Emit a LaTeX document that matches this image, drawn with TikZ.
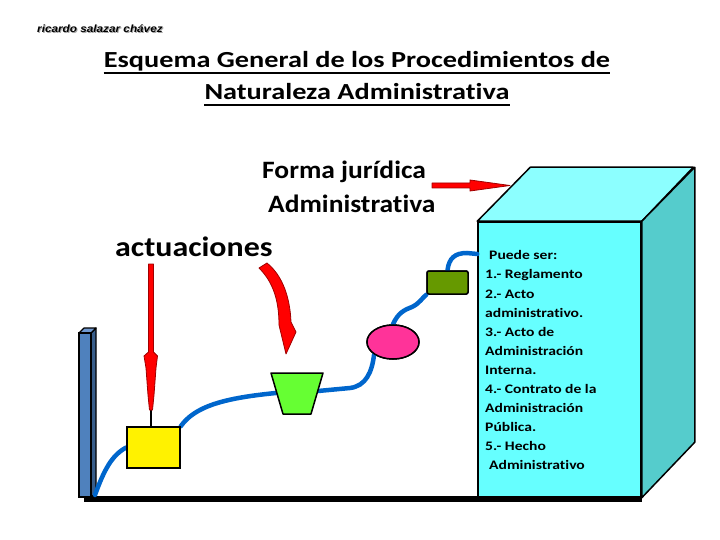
\documentclass[tikz,border=0pt]{standalone}
\usepackage{fontspec}
\setmainfont{Carlito}[Ligatures=NoCommon]
\newfontfamily\authorfont{Liberation Sans}[FakeStretch=1.12]
\newfontfamily\titlefont{Carlito}[FakeStretch=1.23,Ligatures=NoCommon]
\newfontfamily\formfont{Carlito}[FakeStretch=1.1,Ligatures=NoCommon]
\newfontfamily\actfont{Carlito}[FakeStretch=1.14,Ligatures=NoCommon]
\newfontfamily\boxfont{Carlito}[FakeStretch=1.2,Ligatures=NoCommon]
\usetikzlibrary{calc,shapes.geometric}
\definecolor{cyanfront}{HTML}{66FFFF}
\definecolor{cyantop}{HTML}{8CFFFF}
\definecolor{cyanside}{HTML}{55CCCC}
\definecolor{wire}{HTML}{0066CC}
\definecolor{pinkel}{HTML}{FF3399}
\definecolor{olivebox}{HTML}{669900}
\definecolor{greentz}{HTML}{66FF33}
\definecolor{pillarf}{HTML}{4F81BD}
\definecolor{pillars}{HTML}{385D8A}
\definecolor{pillart}{HTML}{7099D0}
\definecolor{arrred}{HTML}{FF0000}
\definecolor{arrdark}{HTML}{A00000}
\tikzset{
  shapeline/.style={draw=black, line width=1.5pt},
  wireline/.style={draw=wire, line width=4.5pt, line cap=round},
  redarrow/.style={fill=arrred, draw=arrdark, line width=0.8pt, line join=round},
  titletext/.style={font=\titlefont\bfseries\fontsize{23}{28}\selectfont, inner sep=0pt},
  labeltext/.style={font=\formfont\bfseries\fontsize{25}{30}\selectfont, inner sep=0pt},
}
\begin{document}
\begin{tikzpicture}[x=1pt,y=-1pt]
\useasboundingbox (0,0) rectangle (720,540);
% author
\node[anchor=base west, inner sep=0pt, text=black!35, font=\authorfont\bfseries\itshape\fontsize{10.5}{12}\selectfont] (authsh) at (38,34) {ricardo salazar chávez};
\node[anchor=base west, inner sep=0pt, font=\authorfont\bfseries\itshape\fontsize{10.5}{12}\selectfont] (auth) at (37,33) {ricardo salazar chávez};
% title
\node[titletext, anchor=base] (t1) at (357,68) {Esquema General de los Procedimientos de~};
\node[titletext, anchor=base] (t2) at (357,100) {Naturaleza Administrativa};
\draw[line width=2.8pt] ([yshift=-5pt]t1.base west) -- ([yshift=-5pt]t1.base east);
\draw[line width=2.8pt] ([yshift=-5pt]t2.base west) -- ([yshift=-5pt]t2.base east);
% labels
\node[labeltext, anchor=base west] (f1) at (262,179) {Forma jurídica};
\node[labeltext, anchor=base west] (f2) at (268,213) {Administrativa};
\node[inner sep=0pt, font=\actfont\bfseries\fontsize{28}{32}\selectfont, anchor=base west] (act) at (115,256) {actuaciones};
% cube
\node[shapeline, fill=cyanfront, minimum width=163pt, minimum height=275pt, inner sep=0pt] (cf) at (559.5,359.5) {};
\draw[shapeline, fill=cyantop, line join=round] (cf.north west) -- ++(53,-54) -- ++(163,0) -- (cf.north east) -- cycle;
\draw[shapeline, fill=cyanside, line join=round] (cf.north east) -- ++(53,-54) -- ++(0,275) -- (cf.south east) -- cycle;
\node[anchor=north west, inner sep=0pt, align=left, font=\boxfont\bfseries\fontsize{13}{19.1}\selectfont] (boxtext) at (485,250.5) {\hspace{4pt}Puede ser:\\1.- Reglamento\\2.- Acto\\administrativo.\\3.- Acto de\\Administración\\Interna.\\4.- Contrato de la\\Administración\\Pública.\\5.- Hecho\\\hspace{4pt}Administrativo};
% floor
\draw[line width=5.5pt] (84,499) -- (cf.south east |- 0,499);
% pillar
\coordinate (p0) at (95,495);
\fill[pillarf] (79,333) rectangle (91,497);
\draw[line width=1.2pt, fill=pillars, line join=round] (91,333) -- (96,328) -- (96,493) -- (91,497) -- cycle;
\draw[line width=1.2pt, fill=pillart, line join=round] (79,333) -- (84,328) -- (96,328) -- (91,333) -- cycle;
\draw[line width=1.2pt] (79,333) rectangle (91,497);
% shapes nodes
\node[shapeline, fill=yellow, minimum width=53pt, minimum height=41pt, inner sep=0pt] (yb) at (153.5,447.5) {};
\coordinate (tzl) at (276,393);
\coordinate (tzr) at (318,391);
\node[shapeline, fill=pinkel, ellipse, minimum width=52pt, minimum height=34pt, inner sep=0pt] (el) at (393,342) {};
\node[shapeline, fill=olivebox, rounded corners=2pt, minimum width=41pt, minimum height=23pt, inner sep=0pt] (ob) at (447.5,282.5) {};
% wires
\draw[wireline] (p0) .. controls (104,470) and (112,455) .. (yb.west);
\draw[wireline] (yb.north east) .. controls (195,406) and (225,398) .. (tzl);
\draw[wireline] (tzr) -- (350,388) .. controls (366,386) and (372,372) .. (el.south west);
\draw[wireline] (el.north) .. controls (398,313) and (404,310) .. (412,307) .. controls (420,303) and (422,298) .. (ob.south west);
\draw[wireline] (ob.north) .. controls (449,258) and (455,253) .. (467,253) -- (cf.west |- 0,254);
% redraw shapes over wires
\node[shapeline, fill=yellow, minimum width=53pt, minimum height=41pt, inner sep=0pt] at (yb) {};
\draw[shapeline, fill=greentz, line join=round] (271,373) -- (323,373) -- (311,414) -- (283,414) -- cycle;
\node[shapeline, fill=pinkel, ellipse, minimum width=52pt, minimum height=34pt, inner sep=0pt] at (el) {};
\node[shapeline, fill=olivebox, rounded corners=2pt, minimum width=41pt, minimum height=23pt, inner sep=0pt] at (ob) {};
% vertical red arrow
\coordinate (va) at (151,410);
\draw[line width=1.2pt] (va) -- (va |- yb.north);
\draw[redarrow] (148.5,264) -- (153.5,264) -- (153.5,352) -- (157.5,356) -- (156,368) -- (154,395) -- (152.5,410) -- (149.5,410) -- (148,395) -- (146,368) -- (144,356) -- (148.5,352) -- cycle;
% curved red arrow
\draw[redarrow] (259,268) .. controls (273,282) and (279,300) .. (279,325) -- (286,354) -- (296,332) -- (291,322) .. controls (290,298) and (283,276) .. (267,263) -- cycle;
% horizontal red arrow
\draw[redarrow] (432,183) -- (470,183) -- (470,180) -- (510,185.5) -- (470,191) -- (470,188) -- (432,188) -- cycle;
\end{tikzpicture}
\end{document}
